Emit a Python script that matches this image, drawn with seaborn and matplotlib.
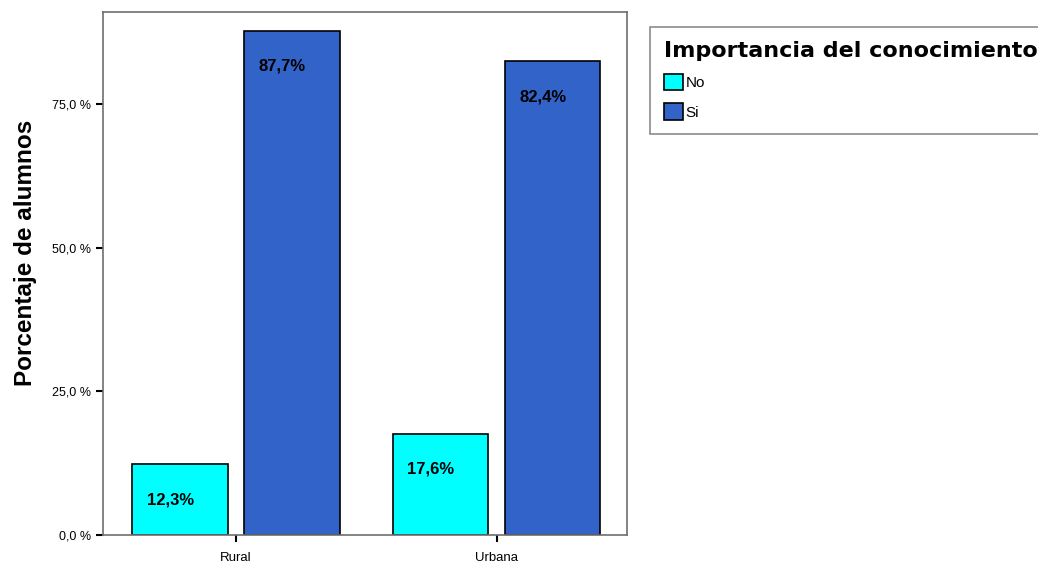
import pandas as pd
import matplotlib.pyplot as plt
import seaborn as sns
from matplotlib.ticker import FuncFormatter
from matplotlib.patches import Patch

zonas = ["Rural", "Urbana"]
respuestas = ["No", "Si"]
pct_no = [12.3, 17.6]
pct_si = [87.7, 82.4]

df = pd.DataFrame({
    "zona": zonas * 2,
    "respuesta": ["No"] * len(zonas) + ["Si"] * len(zonas),
    "pct": pct_no + pct_si,
})
colores = ["#00FFFF", "#3163C9"]

sns.set_style("white")
plt.rcParams["font.family"] = ["Liberation Sans", "DejaVu Sans"]
plt.rcParams["text.color"] = "black"
plt.rcParams["xtick.color"] = "black"
plt.rcParams["ytick.color"] = "black"
plt.rcParams["axes.labelcolor"] = "black"

fig = plt.figure(figsize=(10.38, 5.64), dpi=100)
ax = fig.add_axes([0.0992, 0.0514, 0.5048, 0.9273])

sns.barplot(data=df, x="zona", y="pct", hue="respuesta", hue_order=respuestas,
            palette=colores, width=0.86, gap=0.15,
            edgecolor="black", linewidth=1.2, saturation=1, ax=ax, legend=False)

for cont in ax.containers:
    for p in cont.patches:
        h = p.get_height()
        ax.annotate(f"{h:.1f}%".replace(".", ","), (p.get_x() + p.get_width() / 2, h),
                    xytext=(-7, -20), textcoords="offset points", ha="center", va="top",
                    fontsize=12, fontweight="bold", color="black")

ax.set_xlim(-0.51, 1.50)
ax.set_ylim(0, 91)
ax.set_yticks([0, 25, 50, 75])
ax.yaxis.set_major_formatter(FuncFormatter(lambda v, _: f"{v:.1f} %".replace(".", ",")))
ax.tick_params(axis="y", labelsize=9, length=5, width=1.5, direction="out", left=True)
ax.tick_params(axis="x", labelsize=9.5, length=5, width=1.5, direction="out", bottom=True, pad=7)
ax.set_xlabel("")
ax.set_ylabel("Porcentaje de alumnos", fontsize=17.5, fontweight="bold")
ax.yaxis.set_label_coords(-0.125, 0.54)
for s in ax.spines.values():
    s.set_color("#6e6e6e")
    s.set_linewidth(1.2)

handles = [Patch(facecolor=c, edgecolor="black", linewidth=1.2) for c in colores]
leg = fig.legend(handles, respuestas, loc="upper left", bbox_to_anchor=(0.626, 0.952),
                 borderaxespad=0, title="Importancia del conocimiento", fontsize=11,
                 frameon=True, fancybox=False, edgecolor="#6e6e6e", handlelength=1.3,
                 handleheight=1.3, handletextpad=0.15, labelspacing=0.85, borderpad=0.9,
                 alignment="left")
leg.get_title().set_fontsize(16)
leg.get_title().set_fontweight("bold")
leg.get_title().set_family("DejaVu Sans")
leg.get_frame().set_linewidth(1.2)

fig.savefig("out.png", dpi=100)
